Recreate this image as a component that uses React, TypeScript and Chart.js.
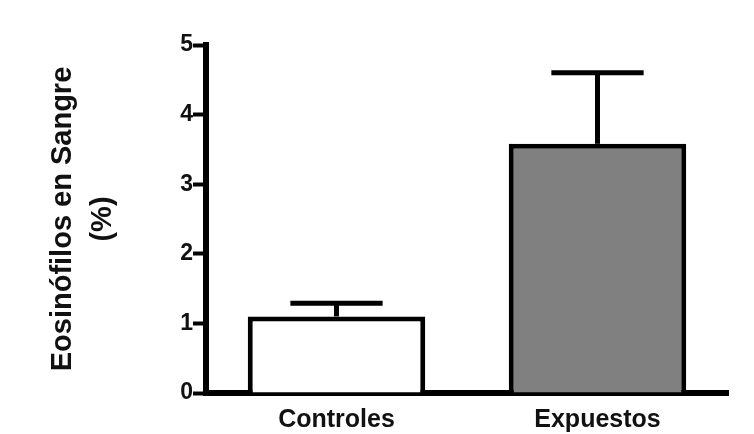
import React, { useEffect, useRef } from "react";
import { Chart, registerables } from "chart.js";

Chart.register(...registerables);

const categories = ["Controles", "Expuestos"];
const means = [1.1, 3.58];
const upperErrors = [1.29, 4.6];
const barColors = ["#ffffff", "#808080"];
const yTicks = [0, 1, 2, 3, 4, 5];
const yTitle = ["Eosinófilos en Sangre", "(%)"];

const FONT = "'Liberation Sans', Arial, sans-serif";

const errorBarPlugin = {
  id: "errorBars",
  afterDatasetsDraw(chart: any) {
    const ctx = chart.ctx;
    const meta = chart.getDatasetMeta(0);
    const yScale = chart.scales.y;
    ctx.save();
    ctx.strokeStyle = "#000";
    ctx.lineWidth = 5;
    ctx.lineCap = "butt";
    meta.data.forEach((bar: any, i: number) => {
      const top = yScale.getPixelForValue(upperErrors[i]);
      const half = bar.width * 0.26;
      ctx.beginPath();
      ctx.moveTo(bar.x, bar.y);
      ctx.lineTo(bar.x, top);
      ctx.stroke();
      ctx.beginPath();
      ctx.moveTo(bar.x - half, top);
      ctx.lineTo(bar.x + half, top);
      ctx.stroke();
    });
    ctx.restore();
  },
};

export default function App() {
  const ref = useRef<HTMLCanvasElement | null>(null);
  useEffect(() => {
    if (!ref.current) return;
    const chart = new Chart(ref.current, {
      type: "bar",
      data: {
        labels: categories,
        datasets: [
          {
            data: means,
            backgroundColor: barColors,
            borderColor: "#000",
            borderWidth: 5,
            barPercentage: 0.68,
            categoryPercentage: 1,
          },
        ],
      },
      options: {
        animation: false,
        responsive: false,
        maintainAspectRatio: false,
        layout: { padding: { top: 45, right: 26, left: 0, bottom: 0 } },
        plugins: { legend: { display: false }, tooltip: { enabled: false } },
        scales: {
          x: {
            z: 1,
            grid: { display: false, drawTicks: false },
            border: { display: true, color: "#000", width: 6 },
            ticks: {
              color: "#111",
              padding: 12,
              font: { family: FONT, size: 25, weight: "bold" },
            },
            afterFit(scale: any) {
              scale.height = 41;
            },
          },
          y: {
            z: 1,
            min: 0,
            max: 5,
            afterBuildTicks(scale: any) {
              scale.ticks = yTicks.map((v) => ({ value: v }));
            },
            grid: {
              drawOnChartArea: false,
              drawTicks: true,
              tickLength: 13,
              tickWidth: 4,
              color: "#000",
            },
            border: { display: true, color: "#000", width: 6 },
            ticks: {
              color: "#111",
              padding: 0,
              font: { family: FONT, size: 23, weight: "bold" },
            },
            title: {
              display: true,
              text: yTitle,
              color: "#111",
              padding: { top: 43, bottom: 0 },
              font: { family: FONT, size: 29, weight: "bold", lineHeight: 1.38 },
            },
            afterFit(scale: any) {
              scale.width = 206;
            },
          },
        },
      },
      plugins: [errorBarPlugin],
    } as any);
    return () => chart.destroy();
  }, []);
  return (
    <div style={{ position: "fixed", left: 0, top: 0, width: 754, height: 434, background: "#fff" }}>
      <canvas ref={ref} width={754} height={434} style={{ width: 754, height: 434 }} />
    </div>
  );
}
